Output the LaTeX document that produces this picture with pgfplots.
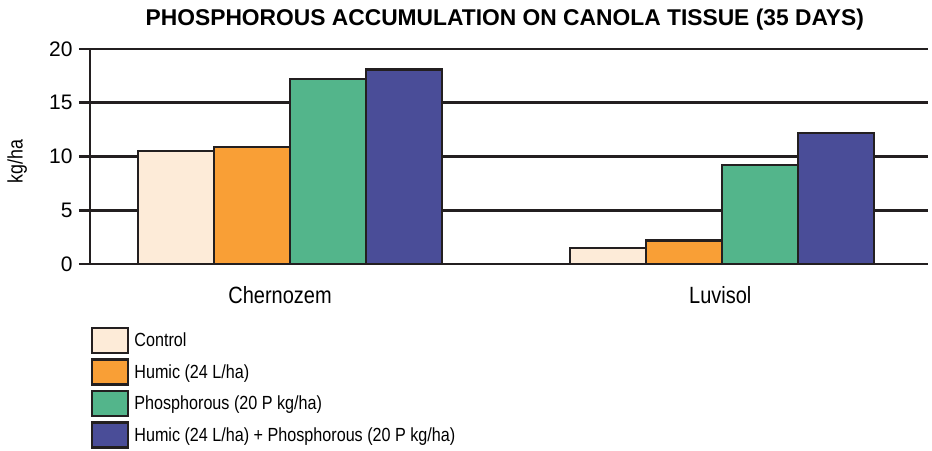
\documentclass[border=0pt]{standalone}
\usepackage{fontspec}
\setmainfont{Liberation Sans}[FakeStretch=0.85]
\newfontfamily\titlefont{Liberation Sans}
\usepackage{pgfplots}
\pgfplotsset{compat=1.18}
\definecolor{cctrl}{HTML}{FDEBD8}
\definecolor{chum}{HTML}{F99F36}
\definecolor{cphos}{HTML}{53B58B}
\definecolor{ccomb}{HTML}{4A4D98}
\definecolor{edge}{HTML}{231F20}
\begin{document}
\begin{tikzpicture}
\path[use as bounding box] (-90bp,-187bp) rectangle (842bp,264bp);
\begin{axis}[
  scale only axis, width=838bp, height=215bp,
  at={(0,0)}, anchor=south west,
  ymin=0, ymax=20, ytick={0,5,10,15,20},
  xmin=-0.463, xmax=1.477,
  xtick={-0.023,0.996}, xticklabels={Chernozem,Luvisol},
  axis x line=bottom, axis y line=left,
  axis line style={-, edge, line width=2.6bp},
  ymajorgrids, grid style={edge, line width=2.6bp},
  tick align=outside, major tick length=11bp,
  tick style={edge, line width=2.6bp},
  x tick style={draw=none},
  /pgf/number format/assume math mode=true,
  yticklabel style={font=\titlefont\fontsize{21bp}{24bp}\selectfont, xshift=-3bp},
  xticklabel style={font=\fontsize{23.5bp}{27bp}\selectfont, anchor=base, yshift=-28bp},
  ylabel={kg/ha},
  ylabel style={font=\fontsize{21bp}{24bp}\selectfont, at={(axis description cs:-0.087,0.477)}, anchor=center},
  title={\titlefont\bfseries PHOSPHOROUS ACCUMULATION ON CANOLA TISSUE (35 DAYS)},
  title style={at={(0.495,1)}, anchor=base, yshift=18bp, font=\fontsize{22.8bp}{26bp}\selectfont},
  ybar=0pt, bar width=0.176,
  every axis plot/.append style={draw=edge, line width=2.4bp,
    legend image code/.code={\draw[##1, line width=2.4bp] (0bp,-12.5bp) rectangle (36bp,12.5bp);}},
  legend style={at={(0,0)}, anchor=north west, xshift=1bp, yshift=-63bp, draw=none, fill=none,
    inner sep=0pt, outer sep=0pt, row sep=4bp,
    font=\fontsize{19bp}{22bp}\selectfont,
    /tikz/every odd column/.append style={column sep=3bp}},
  legend cell align=left,
]
\addplot[fill=cctrl] coordinates {(0,10.5) (1,1.5)};
\addplot[fill=chum] coordinates {(0,10.9) (1,2.2)};
\addplot[fill=cphos] coordinates {(0,17.2) (1,9.2)};
\addplot[fill=ccomb] coordinates {(0,18.1) (1,12.2)};
\legend{Control, Humic (24 L/ha), Phosphorous (20 P kg/ha), Humic (24 L/ha) + Phosphorous (20 P kg/ha)}
\end{axis}
\end{tikzpicture}
\end{document}
